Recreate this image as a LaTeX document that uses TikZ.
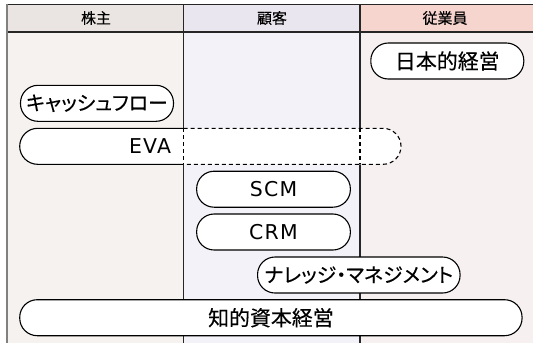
\documentclass[tikz,border=0pt]{standalone}
\usepackage{fontspec}
\setmainfont{Noto Sans CJK JP}[FakeBold=0.3]
\newfontfamily\kanaf{Noto Sans CJK JP}[RawFeature=+palt, FakeBold=0.3]
\newfontfamily\latinf{DejaVu Sans}[LetterSpace=6]
\definecolor{hA}{HTML}{EAE5E2}
\definecolor{bA}{HTML}{F5F2F0}
\definecolor{hB}{HTML}{EAE6EF}
\definecolor{bB}{HTML}{F3F2F8}
\definecolor{hC}{HTML}{F5D5CE}
\definecolor{bC}{HTML}{F6F1F0}
\definecolor{lineC}{HTML}{262626}
\tikzset{
  pill/.style={draw=black, fill=white, line width=1.1bp, rounded corners=17.5bp,
    minimum height=36bp, inner sep=0pt, font=\fontsize{21}{21}\selectfont},
  hdr/.style={font=\fontsize{15}{15}\selectfont, inner sep=0pt},
  dsh/.style={line width=1.1bp, dash pattern=on 4bp off 3bp}
}
\begin{document}
\begin{tikzpicture}[x=1bp,y=-1bp]
\useasboundingbox (0,0) rectangle (533,343);
% backgrounds
\fill[bA] (6.5,32) rectangle (183.5,343);
\fill[bB] (183.5,32) rectangle (360,343);
\fill[bC] (360,32) rectangle (533,343);
\fill[hA] (6.5,4.5) rectangle (183.5,32);
\fill[hB] (183.5,4.5) rectangle (360,32);
\fill[hC] (360,4.5) rectangle (533,32);
% grid lines
\draw[lineC, line width=1.2bp] (183.5,4.5) -- (183.5,343);
\draw[lineC, line width=1.2bp] (360,4.5) -- (360,343);
\draw[lineC, line width=1.6bp] (6,4.5) -- (533,4.5);
\draw[lineC, line width=1.4bp] (6,32) -- (533,32);
\draw[gray, line width=2bp] (6.5,3.7) -- (6.5,343);
% headers
\node[hdr] (h1) at (96,18) {株主};
\node[hdr] (h2) at (272,18) {顧客};
\node[hdr] (h3) at (445,18) {従業員};
% pills
\node[pill, minimum width=153bp] (nihon) at (447.3,61) {日本的経営};
\node[pill, minimum width=153bp] (cf) at (97,103.3) {\kanaf\fontsize{20}{21}\selectfont キャッシュフロー};
% EVA
\fill[white] (183.5,128.3) -- (37.7,128.3) arc[start angle=270, end angle=90, radius=18] -- (383,164.3) arc[start angle=90, end angle=-90, radius=18] -- cycle;
\draw[line width=1.1bp] (183.5,128.3) -- (37.7,128.3) arc[start angle=270, end angle=90, radius=18] -- (183.5,164.3);
\draw[dsh] (183.5,128.3) -- (383,128.3) arc[start angle=270, end angle=450, radius=18] -- (183.5,164.3);
\draw[dsh] (183.5,128.3) -- (183.5,164.3);
\draw[dsh] (360,128.3) -- (360,164.3);
\node[inner sep=0pt, font=\fontsize{20.5}{21}\selectfont\latinf] (eva) at (150,146.3) {EVA};
\node[pill, minimum width=153.7bp] (scm) at (273.5,189.2) {\latinf\fontsize{20.5}{21}\selectfont SCM};
\node[pill, minimum width=153.7bp] (crm) at (273.5,232) {\latinf\fontsize{20.5}{21}\selectfont CRM};
\node[pill, minimum width=202.5bp] (km) at (358.8,275) {\kanaf\fontsize{20}{21}\selectfont ナレッジ・マネジメント};
\node[pill, minimum width=502.3bp] (ic) at (270.9,317.7) {知的資本経営};
\end{tikzpicture}
\end{document}
